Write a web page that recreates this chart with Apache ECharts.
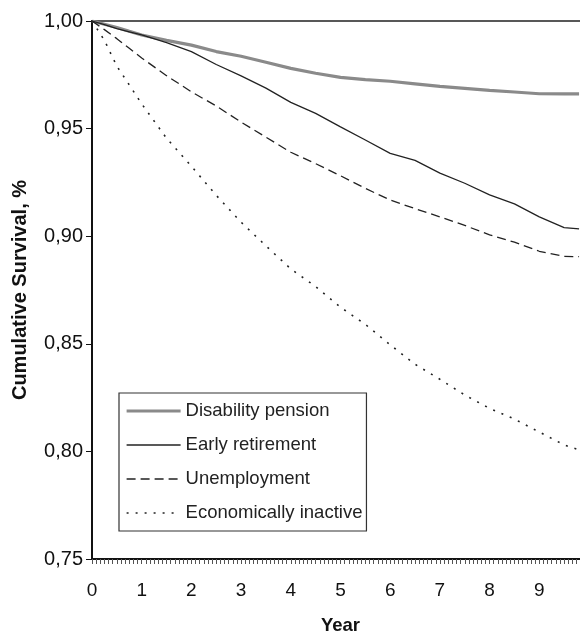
<!DOCTYPE html>
<html>
<head>
<meta charset="utf-8">
<script src="https://cdn.jsdelivr.net/npm/echarts@6/dist/echarts.min.js"></script>
<style>
html,body{margin:0;padding:0;background:#fff;}
#chart{width:580px;height:635px;}
</style>
</head>
<body>
<div id="chart"></div>
<script>
var years = [0, 0.25, 0.5, 0.75, 1, 1.5, 2, 2.5, 3, 3.5, 4, 4.5, 5, 5.5, 6, 6.5, 7, 7.5, 8, 8.5, 9, 9.5, 9.8];
var disabilityPension = [1.000, 0.9985, 0.9970, 0.9952, 0.9935, 0.9910, 0.9888, 0.9858, 0.9836, 0.9808, 0.9780, 0.9757, 0.9738, 0.9728, 0.9720, 0.9708, 0.9696, 0.9687, 0.9678, 0.9670, 0.9662, 0.9661, 0.9661];
var earlyRetirement = [1.000, 0.9983, 0.9965, 0.9950, 0.9935, 0.9900, 0.9858, 0.9798, 0.9745, 0.9688, 0.9622, 0.9571, 0.9508, 0.9447, 0.9385, 0.9352, 0.9293, 0.9246, 0.9192, 0.9150, 0.9090, 0.9040, 0.9034];
var unemployment = [1.000, 0.9960, 0.9918, 0.9873, 0.9828, 0.9746, 0.9671, 0.9605, 0.9530, 0.9460, 0.9390, 0.9337, 0.9281, 0.9222, 0.9168, 0.9128, 0.9090, 0.9050, 0.9006, 0.8972, 0.8930, 0.8906, 0.8905];
var economicallyInactive = [1.000, 0.9910, 0.9790, 0.9703, 0.9615, 0.9455, 0.9325, 0.9190, 0.9065, 0.8955, 0.8848, 0.8766, 0.8670, 0.8590, 0.8495, 0.8405, 0.8335, 0.8262, 0.8200, 0.8150, 0.8090, 0.8030, 0.8007];
var seriesNames = ['Disability pension', 'Early retirement', 'Unemployment', 'Economically inactive'];
var xTicks = [0, 1, 2, 3, 4, 5, 6, 7, 8, 9, 10];
var yTicks = [0.75, 0.80, 0.85, 0.90, 0.95, 1.00];

function pairs(vals){ return years.map(function(y,i){ return [y, vals[i]]; }); }

var chart = echarts.init(document.getElementById('chart'), null, {renderer:'canvas'});
var font = 'Liberation Sans, Arial, sans-serif';
chart.setOption({
  animation: false,
  backgroundColor: '#fff',
  grid: {left: 92, top: 21, width: 497, height: 538, outerBoundsMode: 'none', containLabel: false,
    show: true, borderColor: '#222', borderWidth: 1.5, backgroundColor: 'transparent'},
  legend: {
    orient: 'vertical', left: 119, top: 393,
    padding: [8, 4, 8, 6], itemGap: 14, itemWidth: 54, itemHeight: 14,
    borderColor: '#333', borderWidth: 1.2, backgroundColor: '#fff',
    itemStyle: {opacity: 0},
    textStyle: {fontFamily: font, fontSize: 18.5, color: '#222', lineHeight: 20},
    data: [
      {name: seriesNames[0], lineStyle: {width: 3.2, color: '#8a8a8a'}},
      {name: seriesNames[1], lineStyle: {width: 1.3, color: '#222'}},
      {name: seriesNames[2], lineStyle: {width: 1.3, color: '#222', type: [9, 5]}},
      {name: seriesNames[3], lineStyle: {width: 1.6, color: '#222', type: [2, 7]}}
    ]
  },
  xAxis: {
    type: 'value', min: xTicks[0], max: xTicks[xTicks.length-1], interval: 1,
    name: 'Year', nameLocation: 'middle', nameGap: 57,
    nameTextStyle: {fontFamily: font, fontSize: 18.5, fontWeight: 'bold', color: '#111'},
    axisLine: {show: true, onZero: false, lineStyle: {color: '#111', width: 2}},
    axisTick: {show: true, inside: false, length: 5, lineStyle: {color: '#555', width: 1}},
    minorTick: {show: true, splitNumber: 12, length: 5, lineStyle: {color: '#555', width: 1}},
    axisLabel: {margin: 22, fontFamily: font, fontSize: 19, color: '#111', showMaxLabel: false},
    splitLine: {show: false}
  },
  yAxis: {
    type: 'value', min: yTicks[0], max: yTicks[yTicks.length-1], interval: 0.05,
    name: 'Cumulative Survival, %', nameLocation: 'middle', nameGap: 62, nameRotate: 90,
    nameTextStyle: {fontFamily: font, fontSize: 20, fontWeight: 'bold', color: '#111'},
    axisLine: {show: true, onZero: false, lineStyle: {color: '#111', width: 2}},
    axisTick: {show: true, inside: false, length: 6, lineStyle: {color: '#111', width: 1}},
    axisLabel: {margin: 9, fontFamily: font, fontSize: 20, color: '#111',
      formatter: function(v){ return v.toFixed(2).replace('.', ','); }},
    splitLine: {show: false}
  },
  series: [
    {name: seriesNames[0], type: 'line', symbol: 'none', data: pairs(disabilityPension),
      lineStyle: {color: '#8a8a8a', width: 3.2}, itemStyle: {color: '#8a8a8a'}},
    {name: seriesNames[1], type: 'line', symbol: 'none', data: pairs(earlyRetirement),
      lineStyle: {color: '#222', width: 1.3}, itemStyle: {color: '#222'}},
    {name: seriesNames[2], type: 'line', symbol: 'none', data: pairs(unemployment),
      lineStyle: {color: '#222', width: 1.3, type: [9, 5]}, itemStyle: {color: '#222'}},
    {name: seriesNames[3], type: 'line', symbol: 'none', data: pairs(economicallyInactive),
      lineStyle: {color: '#222', width: 1.6, type: [2, 7]}, itemStyle: {color: '#222'}}
  ]
});
</script>
</body>
</html>
